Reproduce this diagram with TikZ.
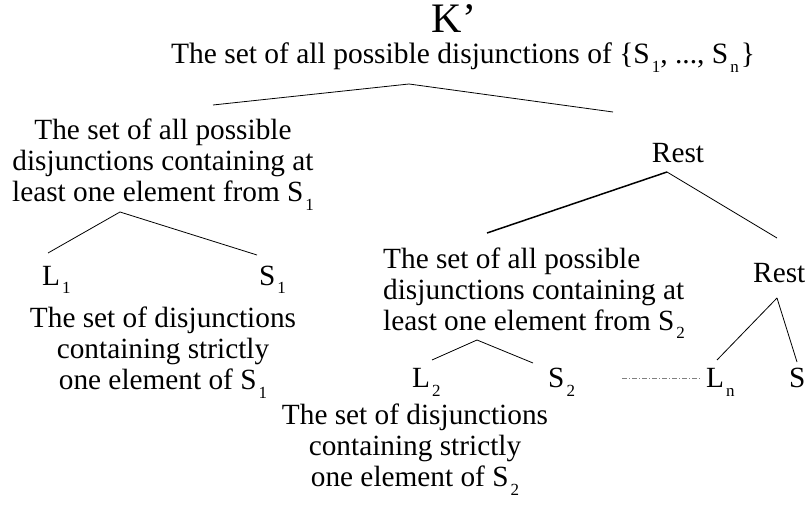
\documentclass[tikz,border=0pt]{standalone}
\usepackage{fontspec}
\setmainfont{Liberation Serif}
\newcommand{\subs}[1]{\kern2pt\raisebox{-9pt}{\fontsize{17}{17}\selectfont #1}}
\tikzset{
  txt/.style={font=\fontsize{29.3}{31}\selectfont, inner sep=0pt, anchor=base},
  edge/.style={line width=0.8pt, black},
  dotdash/.style={line width=0.7pt, gray, dash pattern=on 5pt off 2pt on 1pt off 2pt}
}
\begin{document}
\begin{tikzpicture}[x=1pt,y=-1pt]
\useasboundingbox[fill=white] (0,0) rectangle (806,505);
% text nodes (multi-line nodes: base = last line)
\node[txt,font=\fontsize{42}{42}\selectfont] (k) at (454,33) {K’};
\node[txt,font=\fontsize{29.5}{31}\selectfont] (top) at (463,64) {The set of all possible disjunctions of \{S\subs{1}, ..., S\subs{n}\kern2pt\}};
\node[txt,align=center] (a1) at (163,202) {The set of all possible\\disjunctions containing at\\least one element from S\subs{1}};
\node[txt] (rest1) at (678,163) {Rest};
\node[txt,anchor=base west] (L1) at (42,285) {L\subs{1}};
\node[txt,anchor=base west] (S1) at (259,285) {S\subs{1}};
\node[txt,align=center] (d1) at (163,389) {The set of disjunctions\\containing strictly\\one element of S\subs{1}};
\node[txt,align=left,anchor=base west] (a2) at (383,330) {The set of all possible\\disjunctions containing at\\least one element from S\subs{2}};
\node[txt,anchor=base west] (rest2) at (753,283) {Rest};
\node[txt,anchor=base west] (L2) at (412,387) {L\subs{2}};
\node[txt,anchor=base west] (S2) at (548,387) {S\subs{2}};
\node[txt,align=center] (d2) at (415,486) {The set of disjunctions\\containing strictly\\one element of S\subs{2}};
\node[txt,anchor=base west] (Ln) at (706,387) {L\subs{n}};
\node[txt,anchor=base west] (Sn) at (789,387) {S\subs{n}};
% connector end points
\coordinate (topB) at (409,84);
\coordinate (a1T) at (213,105);
\coordinate (r1T) at (613,112);
\coordinate (r1B) at (667,172);
\coordinate (a2T) at (487,233);
\coordinate (r2T) at (777,238);
\coordinate (a1B) at (120,212);
\coordinate (L1T) at (48,253);
\coordinate (S1T) at (257,255);
\coordinate (a2B) at (477,340);
\coordinate (L2T) at (432,360);
\coordinate (S2T) at (533,363);
\coordinate (r2B) at (777,298);
\coordinate (LnT) at (717,360);
\coordinate (SnT) at (797,362);
\coordinate (dA) at (622,378);
\coordinate (dB) at (700,378);
% connectors
\draw[edge] (a1T) -- (topB) -- (r1T);
\draw[edge] (a1B) -- (L1T);
\draw[edge] (a1B) -- (S1T);
\draw[edge,line width=1.5pt] (r1B) -- (a2T);
\draw[edge] (r1B) -- (r2T);
\draw[edge] (a2B) -- (L2T);
\draw[edge] (a2B) -- (S2T);
\draw[edge] (r2B) -- (LnT);
\draw[edge] (r2B) -- (SnT);
\draw[dotdash] (dA) -- (dB);
\end{tikzpicture}
\end{document}
